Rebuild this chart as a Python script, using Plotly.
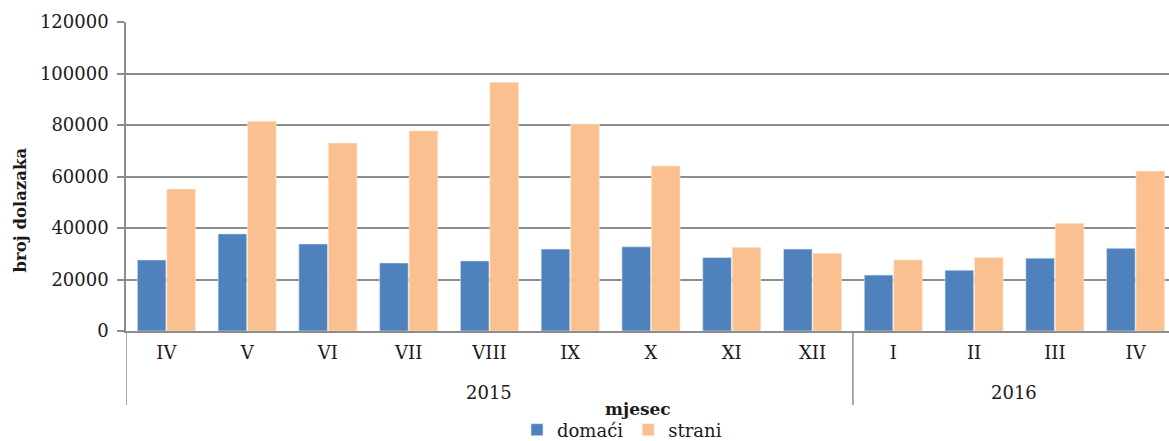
import plotly.graph_objects as go

years = ["2015"] * 9 + ["2016"] * 4
months = ["IV", "V", "VI", "VII", "VIII", "IX", "X", "XI", "XII", "I", "II", "III", "IV"]
domaci = [27600, 37700, 33800, 26400, 27200, 31800, 32700, 28500, 31800, 21700, 23600, 28300, 32100]
strani = [55100, 81500, 73000, 77700, 96600, 80400, 64100, 32500, 30200, 27600, 28500, 41800, 62100]
y_ticks = [0, 20000, 40000, 60000, 80000, 100000, 120000]

FONT = "DejaVu Serif"
GRID = "#8c8c8c"
W, H = 1176, 441
ML, MT, MB = 126, 22, 110
PLOT_H = H - MT - MB
PLOT_W = W - ML

idx = list(range(len(months)))

fig = go.Figure()
fig.add_trace(go.Bar(x=idx, y=domaci, name="domaći",
                     marker=dict(color="#4F81BD", line=dict(color="#DCE6F2", width=0.6))))
fig.add_trace(go.Bar(x=idx, y=strani, name="strani",
                     marker=dict(color="#FAC090", line=dict(color="#FDE9D9", width=0.6))))

# year groups: labels and dividers
groups = []
for i, yv in enumerate(years):
    if not groups or groups[-1][0] != yv:
        groups.append([yv, i, i])
    else:
        groups[-1][2] = i

annotations = []
shapes = []
div_len = 74 / PLOT_H
for yv, a, b in groups:
    annotations.append(dict(x=(a + b) / 2, y=-61 / PLOT_H, xref="x", yref="paper",
                            text=yv, showarrow=False, font=dict(size=18, family=FONT),
                            yanchor="middle"))
    shapes.append(dict(type="line", xref="x", yref="paper", x0=a - 0.5, x1=a - 0.5,
                       y0=0, y1=-div_len, line=dict(color=GRID, width=1.5)))

annotations.append(dict(x=(638 - ML) / PLOT_W, y=-78 / PLOT_H, xref="paper", yref="paper",
                        text="<b>mjesec</b>", showarrow=False,
                        font=dict(size=17, family=FONT), yanchor="middle"))
annotations.append(dict(x=(19.5 - ML) / PLOT_W, y=(331 - 210) / PLOT_H, xref="paper", yref="paper",
                        text="<b>broj dolazaka</b>", showarrow=False, textangle=-90,
                        font=dict(size=16.5, family=FONT), xanchor="center", yanchor="middle"))

fig.update_layout(
    width=W, height=H,
    margin=dict(l=ML, r=0, t=MT, b=MB, autoexpand=False),
    paper_bgcolor="white", plot_bgcolor="white",
    barmode="group", bargap=0.27, bargroupgap=0.03,
    font=dict(family=FONT, size=18, color="#1a1a1a"),
    showlegend=True,
    legend=dict(orientation="h", x=(517 - ML) / PLOT_W, xanchor="left",
                y=-99 / PLOT_H, yanchor="middle",
                font=dict(size=18), traceorder="normal", itemwidth=30,
                bgcolor="rgba(0,0,0,0)"),
    xaxis=dict(range=[-0.5, len(months) - 0.5], tickvals=idx, ticktext=months,
               showline=True, linecolor=GRID, linewidth=1.5, ticks="",
               showgrid=False, zeroline=False, automargin=False,
               ticklabelstandoff=5, tickfont=dict(size=18)),
    yaxis=dict(range=[0, 120000], tickvals=y_ticks, ticktext=[str(v) for v in y_ticks],
               showgrid=True, gridcolor=GRID, gridwidth=1.5,
               showline=True, linecolor=GRID, linewidth=1.5,
               ticks="outside", ticklen=7, tickcolor=GRID, tickwidth=1.5,
               zeroline=False, automargin=False, ticklabelstandoff=5,
               tickfont=dict(size=18)),
    annotations=annotations,
    shapes=shapes,
)

fig.write_html("out.html", config={"displayModeBar": False},
               post_script="document.body.style.margin='0';document.body.style.overflow='hidden';")
